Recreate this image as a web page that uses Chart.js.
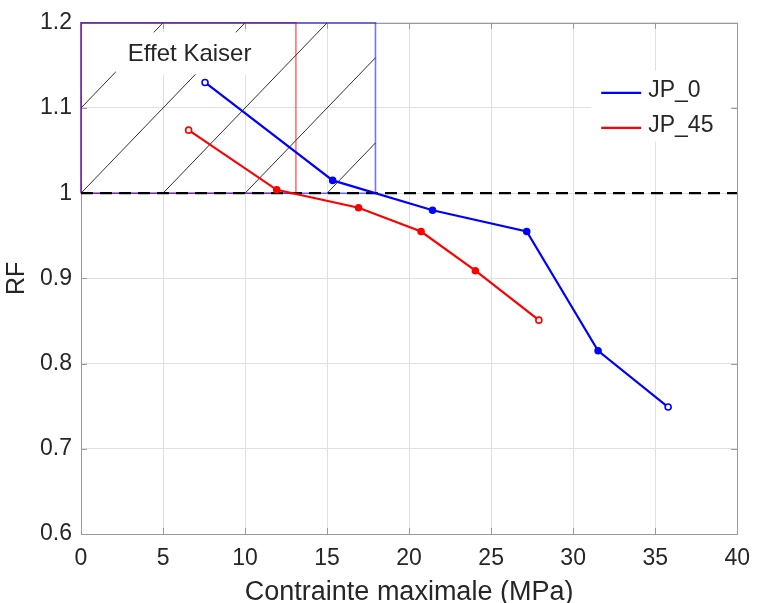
<!DOCTYPE html>
<html><head><meta charset="utf-8">
<script src="https://cdn.jsdelivr.net/npm/chart.js@4/dist/chart.umd.min.js"></script>
<style>html,body{margin:0;padding:0;background:#fff}canvas{display:block}</style>
</head><body>
<canvas id="c" width="761" height="603"></canvas>
<script>
// ---- data ----
const xTicks = [0, 5, 10, 15, 20, 25, 30, 35, 40];
const yTicks = [0.6, 0.7, 0.8, 0.9, 1, 1.1, 1.2];
const seriesLabels = ['JP_0', 'JP_45'];
const jp0X = [7.56, 15.34, 21.43, 27.17, 31.52, 35.79];
const jp0Y = [1.130, 1.015, 0.980, 0.955, 0.815, 0.749];
const jp45X = [6.56, 11.93, 16.92, 20.73, 24.04, 27.91];
const jp45Y = [1.074, 1.004, 0.983, 0.955, 0.909, 0.851];
const refX = [0, 40];
const refY = [1, 1];
const kaiserLabel = 'Effet Kaiser';
const kaiserLabelAt = [6.62, 1.163];
const blueRectX = [0, 0, 17.95, 17.95, 0];
const blueRectY = [1, 1.2, 1.2, 1, 1];
const redRectX = [0, 0, 13.1, 13.1, 0];
const redRectY = [1, 1.2, 1.2, 1, 1];
const hatchX = [[0, 5], [0, 10], [5, 15], [10, 17.95], [15, 17.95]];
const hatchY = [[1.1, 1.2], [1.0, 1.2], [1.0, 1.2], [1.0, 1.159], [1.0, 1.059]];
const xTitle = 'Contrainte maximale (MPa)';
const yTitle = 'RF';

const FONT = "'Liberation Sans', Arial, sans-serif";
const TXT = '#262626';
const BLUE = '#0000ff', RED = '#ff0000';
const pts = (xs, ys) => xs.map((x, i) => ({x, y: ys[i]}));
const endFill = (n, c) => Array.from({length: n}, (_, i) => (i === 0 || i === n - 1) ? '#ffffff' : c);

const datasets = [
  {label: seriesLabels[0], data: pts(jp0X, jp0Y), showLine: true, borderColor: BLUE, borderWidth: 2.2,
   pointRadius: 3, pointBorderWidth: 1.6, pointBorderColor: BLUE, pointBackgroundColor: endFill(jp0X.length, BLUE), order: 0, legend: true},
  {label: seriesLabels[1], data: pts(jp45X, jp45Y), showLine: true, borderColor: RED, borderWidth: 2.2,
   pointRadius: 3, pointBorderWidth: 1.6, pointBorderColor: RED, pointBackgroundColor: endFill(jp45X.length, RED), order: 0, legend: true},
  {label: 'ref', data: pts(refX, refY), showLine: true, borderColor: '#000', borderWidth: 2.2, borderDash: [12, 7],
   pointRadius: 0, order: 1},
  {label: 'rectBlue', data: pts(blueRectX, blueRectY), showLine: true, borderColor: 'rgba(0,0,255,0.55)', borderWidth: 1.6,
   pointRadius: 0, order: 2, clip: 4},
  {label: 'rectRed', data: pts(redRectX, redRectY), showLine: true, borderColor: 'rgba(255,0,0,0.55)', borderWidth: 1.6,
   pointRadius: 0, order: 3, clip: 4},
];
hatchX.forEach((hx, i) => datasets.push({label: 'hatch' + i, data: pts(hx, hatchY[i]), showLine: true,
  borderColor: '#1a1a1a', borderWidth: 0.9, pointRadius: 0, order: 4}));

const framePlugin = {
  id: 'frame',
  beforeDatasetsDraw(chart) {
    const {ctx, chartArea: a, scales} = chart;
    ctx.save();
    ctx.strokeStyle = '#9a9a9a';
    ctx.lineWidth = 1;
    ctx.beginPath();
    xTicks.forEach(v => {
      const p = Math.round(scales.x.getPixelForValue(v)) + 0.5;
      ctx.moveTo(p, a.bottom); ctx.lineTo(p, a.bottom - 6);
      ctx.moveTo(p, a.top); ctx.lineTo(p, a.top + 6);
    });
    yTicks.forEach(v => {
      const p = Math.round(scales.y.getPixelForValue(v)) + 0.5;
      ctx.moveTo(a.left, p); ctx.lineTo(a.left + 6, p);
      ctx.moveTo(a.right, p); ctx.lineTo(a.right - 6, p);
    });
    ctx.stroke();
    ctx.strokeRect(Math.round(a.left) + 0.5, Math.round(a.top) + 0.5, Math.round(a.right - a.left), Math.round(a.bottom - a.top));
    ctx.restore();
  },
  afterDatasetsDraw(chart) {
    const {ctx, chartArea: a, scales} = chart;
    ctx.save();
    // text box "Effet Kaiser"
    ctx.font = '24px ' + FONT;
    const tx = scales.x.getPixelForValue(kaiserLabelAt[0]);
    const ty = scales.y.getPixelForValue(kaiserLabelAt[1]);
    const tw = ctx.measureText(kaiserLabel).width;
    ctx.fillStyle = '#fff';
    ctx.fillRect(tx - tw / 2 - 12, ty - 22, tw + 24, 42);
    ctx.fillStyle = TXT;
    ctx.textAlign = 'center';
    ctx.textBaseline = 'middle';
    ctx.fillText(kaiserLabel, tx, ty);
    // legend
    const lx = a.right - 146, ly = a.top + 48;
    ctx.fillStyle = '#fff';
    ctx.fillRect(lx, ly, 140, 71);
    ctx.font = '23px ' + FONT;
    ctx.textAlign = 'left';
    chart.data.datasets.filter(d => d.legend).forEach((d, i) => {
      const y = ly + 22 + i * 35;
      ctx.strokeStyle = d.borderColor;
      ctx.lineWidth = 2.2;
      ctx.beginPath(); ctx.moveTo(lx + 10, y); ctx.lineTo(lx + 50, y); ctx.stroke();
      ctx.fillStyle = TXT;
      ctx.fillText(d.label, lx + 57, y - 2);
    });
    ctx.restore();
  }
};

new Chart(document.getElementById('c'), {
  type: 'scatter',
  data: {datasets},
  options: {
    responsive: false,
    animation: false,
    devicePixelRatio: 1,
    layout: {padding: {top: 21, right: 15, left: 0, bottom: 0}},
    plugins: {legend: {display: false}, tooltip: {enabled: false}},
    scales: {
      x: {
        type: 'linear', min: 0, max: 40,
        afterBuildTicks: s => { s.ticks = xTicks.map(v => ({value: v})); },
        afterFit: s => { s.height = 69; },
        ticks: {padding: 11, color: TXT, font: {family: FONT, size: 23}, callback: v => String(v), maxRotation: 0},
        grid: {color: '#e0e0e0', drawTicks: false, lineWidth: 1},
        border: {display: false},
        title: {display: true, text: xTitle, color: TXT, font: {family: FONT, size: 27, lineHeight: 1}, padding: {top: 0, bottom: -2.8}}
      },
      y: {
        type: 'linear', min: 0.6, max: 1.2,
        afterBuildTicks: s => { s.ticks = yTicks.map(v => ({value: v})); },
        afterFit: s => { s.width = 81; },
        ticks: {padding: 9, color: TXT, font: {family: FONT, size: 23}, callback: v => String(+v.toFixed(1))},
        grid: {color: '#e0e0e0', drawTicks: false, lineWidth: 1},
        border: {display: false},
        title: {display: true, text: yTitle, color: TXT, font: {family: FONT, size: 25, lineHeight: 1}, padding: {top: 5, bottom: 0}}
      }
    }
  },
  plugins: [framePlugin]
});
</script>
</body></html>
